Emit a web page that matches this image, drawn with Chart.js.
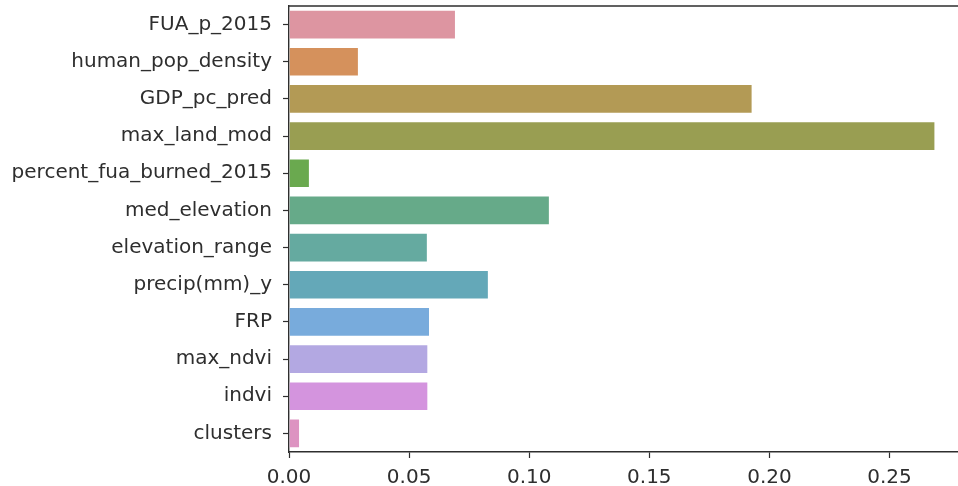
<!DOCTYPE html>
<html>
<head>
<meta charset="utf-8">
<script src="https://cdn.jsdelivr.net/npm/chart.js@4/dist/chart.umd.min.js"></script>
<style>
  html, body { margin: 0; padding: 0; background: #ffffff; overflow: hidden; }
  #wrap { position: relative; width: 972px; height: 486px; }
</style>
</head>
<body>
<div id="wrap"><canvas id="chart" width="972" height="486"></canvas></div>
<script>
// Feature importances
const features = [
  'FUA_p_2015', 'human_pop_density', 'GDP_pc_pred', 'max_land_mod',
  'percent_fua_burned_2015', 'med_elevation', 'elevation_range',
  'precip(mm)_y', 'FRP', 'max_ndvi', 'indvi', 'clusters'
];
const importance = [
  0.0695, 0.0291, 0.1930, 0.2691,
  0.0087, 0.1086, 0.0578,
  0.0832, 0.0587, 0.0580, 0.0580, 0.0046
];
const barColors = [
  '#dd95a1', '#d5915c', '#b39a55', '#999e52',
  '#6aa94f', '#66aa89', '#65aaa0',
  '#64a8b8', '#78abdc', '#b3a8e2', '#d494de', '#dd93c1'
];
const xTicks = [0, 0.05, 0.10, 0.15, 0.20, 0.25];

const ink = '#2e2e2e';
const font = { family: '"DejaVu Sans", sans-serif', size: 20 };

// Draws the top and right spines around the plotting area
const frame = {
  id: 'frame',
  afterDraw(chart) {
    const { ctx, chartArea: a } = chart;
    ctx.save();
    ctx.strokeStyle = ink;
    ctx.lineWidth = 1.4;
    ctx.beginPath();
    ctx.moveTo(a.left, a.top);
    ctx.lineTo(a.right, a.top);
    ctx.lineTo(a.right, a.bottom);
    ctx.stroke();
    ctx.restore();
  }
};

new Chart(document.getElementById('chart'), {
  type: 'bar',
  data: {
    labels: features,
    datasets: [{
      data: importance,
      backgroundColor: barColors,
      borderColor: 'rgba(255,255,255,0.35)',
      borderWidth: 1,
      categoryPercentage: 0.8,
      barPercentage: 1.0
    }]
  },
  options: {
    indexAxis: 'y',
    responsive: false,
    animation: false,
    layout: { padding: { top: 6, right: 2, left: 0, bottom: 0 } },
    plugins: { legend: { display: false }, tooltip: { enabled: false } },
    scales: {
      x: {
        min: 0,
        max: 0.2835,
        afterBuildTicks(scale) { scale.ticks = xTicks.map(v => ({ value: v })); },
        afterFit(scale) {
          scale.height = 34;
          scale.paddingLeft = 0;
          scale.paddingRight = 0;
        },
        grid: { display: true, drawOnChartArea: false, tickLength: 6, tickColor: ink, tickWidth: 1.2 },
        border: { display: true, color: ink, width: 1.4 },
        ticks: {
          color: ink, font, padding: 8, maxRotation: 0,
          callback: v => Number(v).toFixed(2)
        }
      },
      y: {
        afterFit(scale) {
          scale.width = 289;
          scale.paddingTop = 0;
          scale.paddingBottom = 0;
        },
        grid: { display: true, drawOnChartArea: false, tickLength: 6, tickColor: ink, tickWidth: 1.2, offset: false },
        border: { display: true, color: ink, width: 1.4 },
        ticks: { color: ink, font, padding: 11, autoSkip: false }
      }
    }
  },
  plugins: [frame]
});
</script>
</body>
</html>
